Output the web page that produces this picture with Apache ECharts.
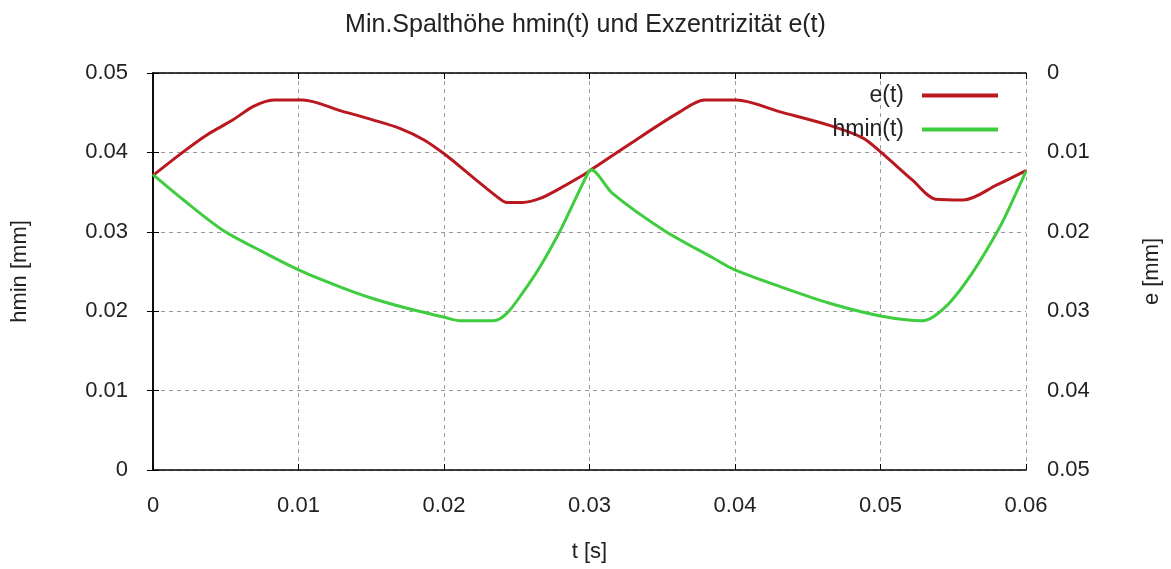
<!DOCTYPE html>
<html>
<head>
<meta charset="utf-8">
<script src="https://cdn.jsdelivr.net/npm/echarts@6/dist/echarts.min.js"></script>
<style>
  html, body { margin: 0; padding: 0; background: #fff; }
  #pic { width: 1171px; height: 569px; }
</style>
</head>
<body>
<div id="pic"></div>
<script>
// t [s] and hmin [mm]
var tH = [0, 0.0021, 0.0048, 0.0071, 0.0100, 0.0128, 0.0151, 0.0174, 0.0201, 0.0211, 0.0234,
  0.0243, 0.0254, 0.0266, 0.0280, 0.0291, 0.0299,
  0.0301, 0.0316, 0.0351, 0.0385, 0.0400, 0.0431, 0.0465, 0.0500, 0.0529, 0.0545,
  0.0563, 0.0582, 0.0593, 0.0600];
var hmin = [0.0372, 0.0340, 0.0302, 0.0279, 0.0252, 0.0231, 0.0216, 0.0204, 0.0192, 0.0188, 0.0188,
  0.0197, 0.0223, 0.0256, 0.0302, 0.0344, 0.0374,
  0.0378, 0.0348, 0.0302, 0.0267, 0.0252, 0.0231, 0.0210, 0.0194, 0.0188, 0.0206,
  0.0248, 0.0306, 0.0348, 0.0376];

// t [s] and e [mm] (right axis, drawn downwards)
var tE = [0, 0.0021, 0.0037, 0.0055, 0.0069, 0.0083, 0.0103, 0.0128, 0.0151, 0.0170, 0.0186,
  0.0201, 0.0215, 0.0229, 0.0238, 0.0243, 0.0254, 0.0266, 0.0280, 0.0298,
  0.0301, 0.0328, 0.0362, 0.0379, 0.0401, 0.0431, 0.0465, 0.0488, 0.0501, 0.0522,
  0.0538, 0.0557, 0.0580, 0.0600];
var e = [0.0129, 0.0099, 0.0078, 0.0059, 0.0042, 0.0034, 0.0034, 0.0047, 0.0059, 0.0070, 0.0084,
  0.0103, 0.0124, 0.0145, 0.0158, 0.0163, 0.0163, 0.0158, 0.0145, 0.0126,
  0.0122, 0.0089, 0.0049, 0.0034, 0.0034, 0.0049, 0.0066, 0.0082, 0.0101, 0.0135,
  0.0159, 0.0160, 0.0141, 0.0123];

var xTicks = [0, 0.06, 0.01];
var yTicks = [0, 0.05, 0.01];

function pairs(xs, ys) {
    var out = [];
    for (var i = 0; i < xs.length; i++) {
        out.push([xs[i], ys[i]]);
    }
    return out;
}

var font = 'Liberation Sans, Arial, sans-serif';
var labelStyle = { fontFamily: font, fontSize: 22, color: '#222' };
var gridLine = { show: true, lineStyle: { color: '#9a9a9a', type: [4, 4], width: 1 } };
var border = { show: true, lineStyle: { color: '#000', width: 1.5 } };
var ticks = { show: true, inside: true, length: 6, lineStyle: { color: '#000' } };

var myChart = echarts.init(document.getElementById('pic'));
var option = {
    animation: false,
    title: {
        text: 'Min.Spalthöhe hmin(t) und Exzentrizität e(t)',
        left: 'center',
        top: 8,
        textStyle: { fontFamily: font, fontSize: 25, fontWeight: 'normal', color: '#222' }
    },
    legend: {
        orient: 'vertical',
        right: 168,
        top: 79,
        align: 'right',
        itemWidth: 76,
        itemHeight: 4,
        itemGap: 11,
        icon: 'rect',
        textStyle: { fontFamily: font, fontSize: 23, color: '#222', padding: [0, 13, 0, 0] },
        data: ['e(t)', 'hmin(t)']
    },
    grid: { left: 153, right: 142, top: 73, bottom: 99, containLabel: false },
    xAxis: [{
        type: 'value',
        min: xTicks[0], max: xTicks[1], interval: xTicks[2],
        name: 't [s]',
        nameLocation: 'middle',
        nameGap: 71,
        nameTextStyle: labelStyle,
        axisLine: border,
        axisTick: ticks,
        axisLabel: Object.assign({ margin: 25 }, labelStyle),
        splitLine: gridLine
    }, {
        type: 'value',
        position: 'top',
        min: xTicks[0], max: xTicks[1], interval: xTicks[2],
        axisLine: border,
        axisTick: ticks,
        axisLabel: { show: false },
        splitLine: { show: false }
    }],
    yAxis: [{
        type: 'value',
        min: yTicks[0], max: yTicks[1], interval: yTicks[2],
        name: 'hmin [mm]',
        nameLocation: 'middle',
        nameGap: 122,
        nameTextStyle: labelStyle,
        axisLine: border,
        axisTick: ticks,
        axisLabel: Object.assign({ margin: 25 }, labelStyle),
        splitLine: gridLine
    }, {
        type: 'value',
        inverse: true,
        min: yTicks[0], max: yTicks[1], interval: yTicks[2],
        name: 'e [mm]',
        nameLocation: 'middle',
        nameGap: 115,
        nameRotate: 90,
        nameTextStyle: labelStyle,
        axisLine: border,
        axisTick: ticks,
        axisLabel: Object.assign({ margin: 21 }, labelStyle),
        splitLine: { show: false }
    }],
    series: [{
        name: 'e(t)',
        type: 'line',
        yAxisIndex: 1,
        showSymbol: false,
        smooth: 0.3,
        color: '#ba1820',
        lineStyle: { width: 3 },
        data: pairs(tE, e)
    }, {
        name: 'hmin(t)',
        type: 'line',
        yAxisIndex: 0,
        showSymbol: false,
        smooth: 0.3,
        color: '#3fcc3f',
        lineStyle: { width: 3 },
        data: pairs(tH, hmin)
    }]
};
myChart.setOption(option);
</script>
</body>
</html>
